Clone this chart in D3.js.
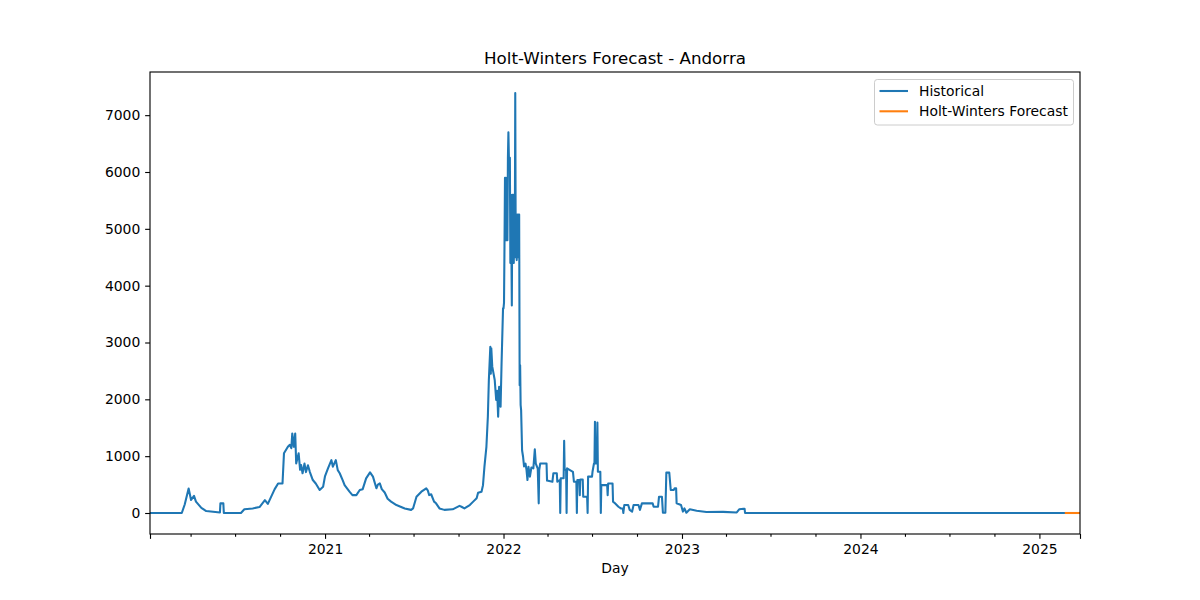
<!DOCTYPE html>
<html>
<head>
<meta charset="utf-8">
<script src="https://cdn.jsdelivr.net/npm/d3@7"></script>
<style>
  body { margin: 0; background: #fff; }
  text { font-family: "DejaVu Sans", sans-serif; }
</style>
</head>
<body>
<div id="chart-container"></div>
<script>
const width = 1200;
const height = 600;
const margin = { top: 72, right: 120, bottom: 66, left: 150 };

const title = "Holt-Winters Forecast - Andorra";
const xLabel = "Day";
const seriesNames = ["Historical", "Holt-Winters Forecast"];
const colors = ["#1f77b4", "#ff7f0e"];
const yTicks = [0, 1000, 2000, 3000, 4000, 5000, 6000, 7000];
const yearTicks = ["2021-01-01", "2022-01-01", "2023-01-01", "2024-01-01", "2025-01-01"];

// [day, value]
const historical = [
  ["2020-01-09", 0], ["2020-03-14", 0], ["2020-03-20", 150], ["2020-03-28", 430],
  ["2020-04-02", 230], ["2020-04-08", 300], ["2020-04-12", 200], ["2020-04-23", 90],
  ["2020-05-03", 35], ["2020-05-31", 10], ["2020-06-01", 170], ["2020-06-07", 170],
  ["2020-06-08", 0], ["2020-07-13", 0], ["2020-07-20", 65], ["2020-08-06", 80],
  ["2020-08-20", 105], ["2020-08-31", 225], ["2020-09-06", 160], ["2020-09-20", 420],
  ["2020-09-27", 520], ["2020-10-06", 520], ["2020-10-09", 1050], ["2020-10-17", 1165],
  ["2020-10-21", 1200], ["2020-10-24", 1140], ["2020-10-26", 1400], ["2020-10-29", 1165],
  ["2020-11-01", 1400], ["2020-11-03", 870], ["2020-11-08", 1050], ["2020-11-11", 760],
  ["2020-11-13", 845], ["2020-11-16", 700], ["2020-11-20", 870], ["2020-11-23", 720],
  ["2020-11-27", 840], ["2020-12-01", 720], ["2020-12-07", 580], ["2020-12-13", 520],
  ["2020-12-21", 405], ["2020-12-28", 460],
  ["2021-01-01", 650], ["2021-01-07", 785], ["2021-01-14", 930], ["2021-01-17", 815],
  ["2021-01-23", 930], ["2021-01-27", 755], ["2021-01-31", 700], ["2021-02-06", 580],
  ["2021-02-10", 490], ["2021-02-20", 375], ["2021-02-26", 315], ["2021-03-06", 315],
  ["2021-03-13", 405], ["2021-03-19", 420], ["2021-03-26", 610], ["2021-04-03", 715],
  ["2021-04-09", 640], ["2021-04-16", 435], ["2021-04-19", 500], ["2021-04-23", 520],
  ["2021-04-27", 420], ["2021-05-03", 360], ["2021-05-09", 250], ["2021-05-16", 200],
  ["2021-05-27", 140], ["2021-06-02", 120], ["2021-06-13", 80], ["2021-06-26", 55],
  ["2021-06-30", 80], ["2021-07-07", 285], ["2021-07-17", 375], ["2021-07-27", 435],
  ["2021-07-30", 400], ["2021-08-02", 315], ["2021-08-06", 330], ["2021-08-12", 200],
  ["2021-08-16", 170], ["2021-08-23", 80], ["2021-09-02", 55], ["2021-09-19", 65],
  ["2021-10-03", 125], ["2021-10-07", 110], ["2021-10-13", 80], ["2021-10-24", 140],
  ["2021-10-31", 200], ["2021-11-07", 260], ["2021-11-10", 355], ["2021-11-17", 375],
  ["2021-11-20", 490], ["2021-11-23", 815], ["2021-11-27", 1165], ["2021-11-30", 1700],
  ["2021-12-02", 2340], ["2021-12-05", 2925], ["2021-12-06", 2450], ["2021-12-07", 2900],
  ["2021-12-09", 2575], ["2021-12-14", 2340], ["2021-12-17", 1990], ["2021-12-19", 2150],
  ["2021-12-21", 1695], ["2021-12-23", 2220], ["2021-12-26", 1870], ["2021-12-28", 2630],
  ["2021-12-31", 3600],
  ["2022-01-01", 3600], ["2022-01-02", 3700], ["2022-01-03", 4700], ["2022-01-04", 5900],
  ["2022-01-05", 4800], ["2022-01-06", 5900], ["2022-01-07", 4800], ["2022-01-08", 5850],
  ["2022-01-09", 4800], ["2022-01-10", 6250], ["2022-01-11", 6700], ["2022-01-12", 6250],
  ["2022-01-13", 6200], ["2022-01-14", 6250], ["2022-01-15", 4400], ["2022-01-16", 5600],
  ["2022-01-17", 4700], ["2022-01-18", 3650], ["2022-01-19", 5600], ["2022-01-20", 4400],
  ["2022-01-21", 5600], ["2022-01-22", 4400], ["2022-01-23", 5300], ["2022-01-24", 4500],
  ["2022-01-25", 7390], ["2022-01-26", 4500], ["2022-01-27", 5250], ["2022-01-28", 4450],
  ["2022-01-29", 5250], ["2022-01-30", 4500], ["2022-01-31", 5250], ["2022-02-01", 4500],
  ["2022-02-02", 5250], ["2022-02-03", 2250], ["2022-02-04", 2600], ["2022-02-05", 1900],
  ["2022-02-06", 1810], ["2022-02-08", 1100], ["2022-02-10", 990], ["2022-02-12", 820],
  ["2022-02-15", 870], ["2022-02-17", 760], ["2022-02-19", 580], ["2022-02-21", 815],
  ["2022-02-24", 640], ["2022-02-27", 800], ["2022-03-03", 785], ["2022-03-06", 1120],
  ["2022-03-08", 870], ["2022-03-12", 780], ["2022-03-14", 170], ["2022-03-15", 755],
  ["2022-03-17", 870], ["2022-03-30", 870], ["2022-03-31", 570], ["2022-04-11", 550],
  ["2022-04-13", 700], ["2022-04-20", 700], ["2022-04-21", 550], ["2022-04-26", 580],
  ["2022-04-27", 0], ["2022-04-28", 610], ["2022-05-04", 610], ["2022-05-05", 1270],
  ["2022-05-06", 760], ["2022-05-09", 760], ["2022-05-10", 0], ["2022-05-11", 785],
  ["2022-05-16", 760], ["2022-05-23", 725], ["2022-05-25", 550], ["2022-05-30", 550],
  ["2022-05-31", 0], ["2022-06-01", 580], ["2022-06-05", 580], ["2022-06-06", 315],
  ["2022-06-07", 590], ["2022-06-12", 590], ["2022-06-13", 285], ["2022-06-21", 285],
  ["2022-06-22", 0], ["2022-06-23", 640], ["2022-07-01", 640], ["2022-07-02", 725],
  ["2022-07-05", 870], ["2022-07-06", 870], ["2022-07-07", 1605], ["2022-07-08", 870],
  ["2022-07-11", 870], ["2022-07-12", 1590], ["2022-07-13", 725], ["2022-07-18", 725],
  ["2022-07-19", 0], ["2022-07-20", 490], ["2022-08-01", 490], ["2022-08-02", 315],
  ["2022-08-03", 520], ["2022-08-12", 520], ["2022-08-13", 200], ["2022-08-17", 170],
  ["2022-08-24", 110], ["2022-08-29", 80], ["2022-09-02", 80], ["2022-09-03", 0],
  ["2022-09-05", 140], ["2022-09-13", 140], ["2022-09-16", 55], ["2022-09-21", 25],
  ["2022-09-24", 140], ["2022-10-04", 140], ["2022-10-07", 55], ["2022-10-11", 170],
  ["2022-11-02", 170], ["2022-11-04", 110], ["2022-11-13", 110], ["2022-11-15", 285],
  ["2022-11-21", 285], ["2022-11-23", 5], ["2022-11-28", 5], ["2022-11-30", 710],
  ["2022-12-06", 710], ["2022-12-09", 405], ["2022-12-15", 405], ["2022-12-17", 435],
  ["2022-12-20", 435], ["2022-12-21", 170], ["2022-12-30", 140],
  ["2023-01-03", 25], ["2023-01-06", 80], ["2023-01-10", 5], ["2023-01-17", 65],
  ["2023-01-31", 40], ["2023-02-20", 18], ["2023-03-26", 20], ["2023-04-23", 10],
  ["2023-04-28", 65], ["2023-05-07", 75], ["2023-05-09", 75], ["2023-05-10", 0],
  ["2025-02-23", 0]
];

const forecast = [
  ["2025-02-24", 0], ["2025-03-03", 0], ["2025-03-10", 0], ["2025-03-17", 0], ["2025-03-25", 0]
];

const parse = d3.timeParse("%Y-%m-%d");
const hist = historical.map(([d, v]) => ({ date: parse(d), value: v }));
const fc = forecast.map(([d, v]) => ({ date: parse(d), value: v }));
const all = hist.concat(fc);

const xDomain = d3.extent(all, d => d.date);
const [yMin, yMax] = d3.extent(all, d => d.value);
const pad = (yMax - yMin) * 0.05;

const x = d3.scaleUtc(xDomain, [margin.left, width - margin.right]);
const y = d3.scaleLinear([yMin - pad, yMax + pad], [height - margin.bottom, margin.top]);

const svg = d3.select("#chart-container")
    .append("svg")
    .attr("width", width)
    .attr("height", height)
    .attr("viewBox", [0, 0, width, height]);

const line = d3.line()
    .x(d => x(d.date))
    .y(d => y(d.value));

// clip to the axes box
svg.append("clipPath").attr("id", "clip")
  .append("rect")
    .attr("x", margin.left).attr("y", margin.top)
    .attr("width", width - margin.left - margin.right)
    .attr("height", height - margin.top - margin.bottom);

[hist, fc].forEach((series, i) => {
  svg.append("path")
      .datum(series)
      .attr("clip-path", "url(#clip)")
      .attr("fill", "none")
      .attr("stroke", colors[i])
      .attr("stroke-width", 2.08)
      .attr("stroke-linejoin", "round")
      .attr("stroke-linecap", "square")
      .attr("d", line);
});

// x axis: major ticks at edges and years, minor ticks quarterly
const majorTicks = [xDomain[0], ...yearTicks.map(parse), xDomain[1]];
const minorTicks = d3.utcMonth.every(3).range(xDomain[0], xDomain[1])
    .filter(d => d.getUTCMonth() !== 0);

const xAxis = svg.append("g")
    .attr("transform", `translate(0,${height - margin.bottom})`)
    .call(d3.axisBottom(x)
      .tickValues(majorTicks)
      .tickSize(4.86)
      .tickPadding(4.86)
      .tickFormat(d => (d.getUTCMonth() === 0 && d.getUTCDate() === 1) ? d3.utcFormat("%Y")(d) : ""));

svg.append("g")
    .attr("transform", `translate(0,${height - margin.bottom})`)
    .call(d3.axisBottom(x).tickValues(minorTicks).tickSize(2.78).tickFormat(""))
    .call(g => g.select(".domain").remove());

const yAxis = svg.append("g")
    .attr("transform", `translate(${margin.left},0)`)
    .call(d3.axisLeft(y).tickValues(yTicks).tickSize(4.86).tickPadding(4.86).tickFormat(d3.format("d")));

svg.selectAll(".tick text").attr("font-size", "13.9px").attr("fill", "#000").attr("font-family", "DejaVu Sans");
svg.selectAll(".tick line").attr("stroke", "#000").attr("stroke-width", 1.11);
svg.selectAll(".domain").remove();

// frame
svg.append("rect")
    .attr("x", margin.left).attr("y", margin.top)
    .attr("width", width - margin.left - margin.right)
    .attr("height", height - margin.top - margin.bottom)
    .attr("fill", "none")
    .attr("stroke", "#000")
    .attr("stroke-width", 1.11);

svg.append("text")
    .attr("x", (margin.left + width - margin.right) / 2)
    .attr("y", 64)
    .attr("text-anchor", "middle")
    .attr("font-size", "16.7px")
    .text(title);

svg.append("text")
    .attr("x", (margin.left + width - margin.right) / 2)
    .attr("y", 573)
    .attr("text-anchor", "middle")
    .attr("font-size", "13.9px")
    .text(xLabel);

// legend
const legend = svg.append("g").attr("transform", "translate(874.5,79.5)");
legend.append("rect")
    .attr("width", 199)
    .attr("height", 45.5)
    .attr("rx", 2.8)
    .attr("fill", "#fff")
    .attr("fill-opacity", 0.8)
    .attr("stroke", "#cccccc");

seriesNames.forEach((name, i) => {
  const row = legend.append("g").attr("transform", `translate(0,${11.5 + i * 20.3})`);
  row.append("line")
      .attr("x1", 5).attr("x2", 33.5)
      .attr("stroke", colors[i])
      .attr("stroke-width", 2.08);
  row.append("text")
      .attr("x", 44.5)
      .attr("y", 5)
      .attr("font-size", "13.9px")
      .text(name);
});
</script>
</body>
</html>
